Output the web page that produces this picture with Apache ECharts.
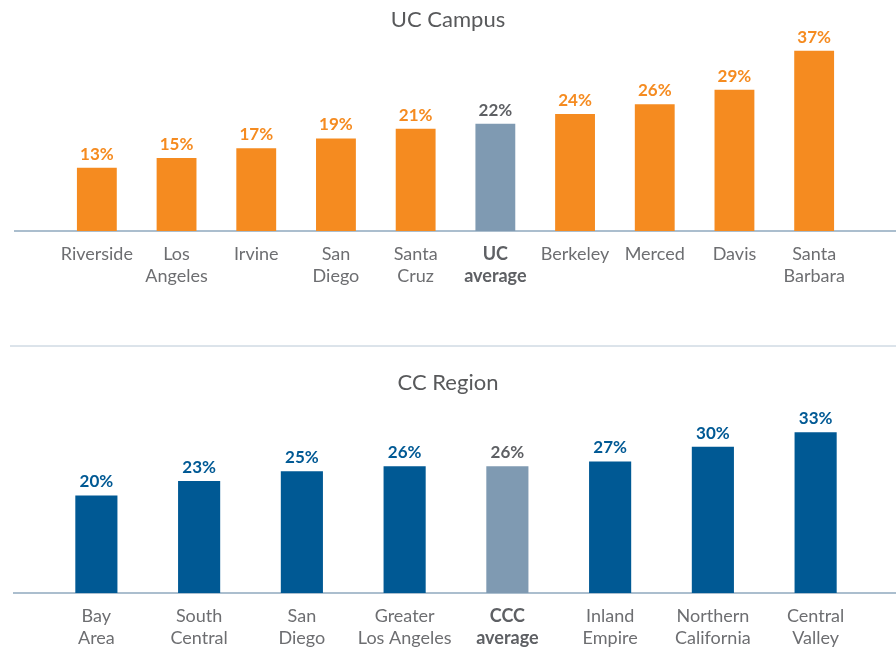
<!DOCTYPE html>
<html>
<head>
<meta charset="utf-8">
<script src="https://cdn.jsdelivr.net/npm/echarts@6/dist/echarts.min.js"></script>
<style>
  html, body { margin: 0; padding: 0; background: #fff; }
  #chart { width: 896px; height: 650px; }
</style>
</head>
<body>
<div id="chart"></div>
<script>
// UC campus shares
var ucCampuses = ['Riverside', 'Los\nAngeles', 'Irvine', 'San\nDiego', 'Santa\nCruz', 'UC\naverage', 'Berkeley', 'Merced', 'Davis', 'Santa\nBarbara'];
var ucRates = [13, 15, 17, 19, 21, 22, 24, 26, 29, 37];

// CC region shares
var ccRegions = ['Bay\nArea', 'South\nCentral', 'San\nDiego', 'Greater\nLos Angeles', 'CCC\naverage', 'Inland\nEmpire', 'Northern\nCalifornia', 'Central\nValley'];
var ccRates = [20, 23, 25, 26, 26, 27, 30, 33];

var ORANGE = '#F58B20', BLUE = '#005994', AVG = '#7F9AB2', AVG_TEXT = '#5E6064';
var FONT = 'Lato';

function isAvg(name) { return name.indexOf('average') >= 0; }

function buildData(names, values, color) {
  return values.map(function (v, i) {
    var avg = isAvg(names[i]);
    return {
      value: v,
      itemStyle: { color: avg ? AVG : color },
      label: { color: avg ? AVG_TEXT : color }
    };
  });
}

function catLabelFormatter(val) {
  if (isAvg(val)) {
    return val.split('\n').map(function (s) { return '{b|' + s + '}'; }).join('\n');
  }
  return val;
}

var axisLabelStyle = {
  interval: 0,
  margin: 12,
  color: '#6D6E71',
  fontFamily: FONT,
  fontSize: 18,
  lineHeight: 22,
  formatter: catLabelFormatter,
  rich: {
    b: { fontWeight: 'bold', color: '#5E6064', fontFamily: FONT, fontSize: 18, lineHeight: 22 }
  }
};

var valueLabel = { show: true, position: 'top', distance: 5, formatter: '{c}%', fontFamily: FONT, fontWeight: 'bold', fontSize: 17 };
var titleStyle = { fontFamily: FONT, fontSize: 22, fontWeight: 'normal', color: '#58595B' };

var chart = echarts.init(document.getElementById('chart'));
chart.setOption({
  animation: false,
  title: [
    { text: 'UC Campus', left: 'center', top: 4, textStyle: titleStyle },
    { text: 'CC Region', left: 'center', top: 367, textStyle: titleStyle }
  ],
  grid: [
    { left: 57, width: 797, top: 36, height: 195 },
    { left: 45, width: 822, top: 398, height: 195 }
  ],
  xAxis: [
    { type: 'category', gridIndex: 0, data: ucCampuses, axisLine: { show: false }, axisTick: { show: false }, axisLabel: axisLabelStyle },
    { type: 'category', gridIndex: 1, data: ccRegions, axisLine: { show: false }, axisTick: { show: false }, axisLabel: axisLabelStyle }
  ],
  yAxis: [
    { type: 'value', gridIndex: 0, min: 0, max: 40, show: false, splitLine: { show: false } },
    { type: 'value', gridIndex: 1, min: 0, max: 40, show: false, splitLine: { show: false } }
  ],
  graphic: [
    { type: 'line', shape: { x1: 14, y1: 231, x2: 896, y2: 231 }, style: { stroke: '#8FA8BE', lineWidth: 1.5 } },
    { type: 'line', shape: { x1: 10, y1: 346, x2: 896, y2: 346 }, style: { stroke: '#B9C8D6', lineWidth: 1 } },
    { type: 'line', shape: { x1: 13, y1: 593, x2: 896, y2: 593 }, style: { stroke: '#8FA8BE', lineWidth: 1.5 } }
  ],
  series: [
    {
      type: 'bar', xAxisIndex: 0, yAxisIndex: 0, barWidth: '50%',
      data: buildData(ucCampuses, ucRates, ORANGE),
      label: valueLabel
    },
    {
      type: 'bar', xAxisIndex: 1, yAxisIndex: 1, barWidth: '41%',
      data: buildData(ccRegions, ccRates, BLUE),
      label: valueLabel
    }
  ]
});
</script>
</body>
</html>
